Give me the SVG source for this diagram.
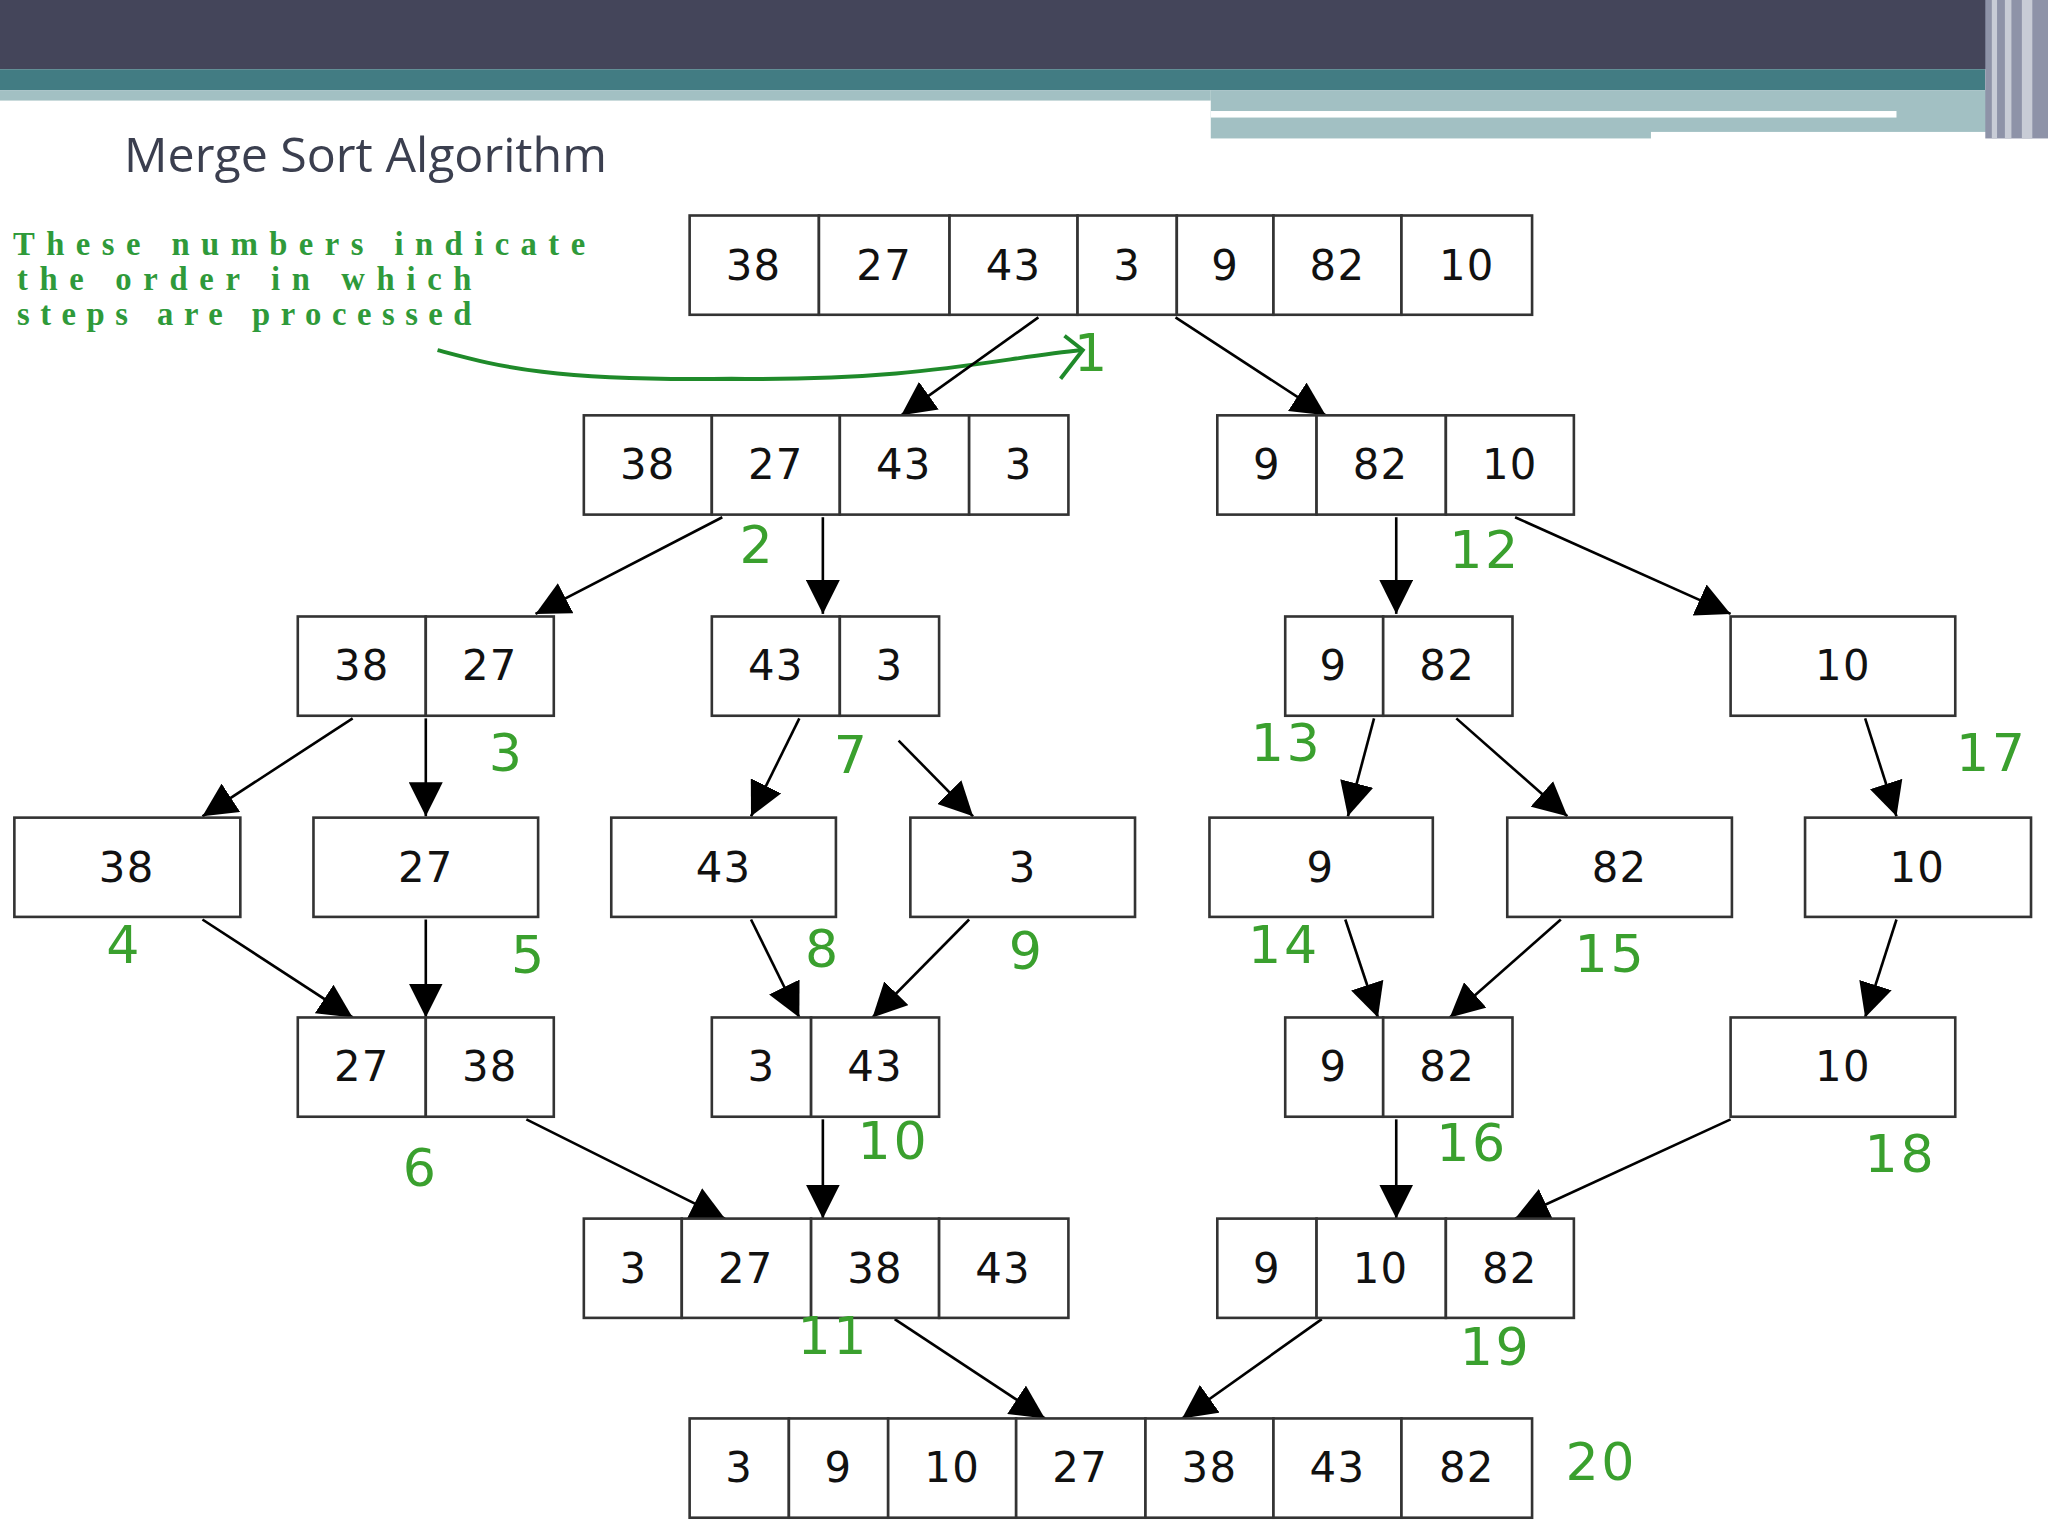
<svg xmlns="http://www.w3.org/2000/svg" width="2048" height="1536" viewBox="0 0 2048 1536">
<defs>
<marker id="ah2" viewBox="0 0 10 10" refX="10" refY="5" markerWidth="26" markerHeight="26" markerUnits="userSpaceOnUse" orient="auto"><path d="M0,0 L10,5 L0,10 z" fill="#000"/></marker>
</defs>
<style>
rect.c{fill:#fff;stroke:#333;stroke-width:2}
text.v{font-family:"DejaVu Sans",sans-serif;font-size:32px;fill:#111;text-anchor:middle;letter-spacing:1px}
text.g{font-family:"DejaVu Sans",sans-serif;font-size:40px;fill:#3aa02e;text-anchor:middle;letter-spacing:2px}
text.h{font-family:"Liberation Serif",serif;font-size:25px;fill:#2f9a3a;font-weight:bold}
line.a{stroke:#000;stroke-width:2;marker-end:url(#ah2)}
</style>
<rect width="2048" height="1536" fill="#fff"/>
<g transform="scale(1.30612)">
<g id="header">
<rect x="0" y="0" width="1568" height="53" fill="#44455a"/>
<rect x="0" y="53" width="1520" height="16" fill="#427c83"/>
<rect x="0" y="69" width="927" height="8" fill="#a2c0c3"/>
<rect x="927" y="69" width="600" height="37" fill="#a2c0c3"/>
<rect x="927" y="85" width="525" height="5" fill="#fff"/>
<rect x="1264" y="101" width="270" height="6" fill="#fff"/>
<rect x="1520" y="0" width="48" height="106" fill="#8e93a8"/>
<rect x="1525" y="0" width="4" height="106" fill="#c8ccd6"/>
<rect x="1535" y="0" width="5" height="106" fill="#c8ccd6"/>
<rect x="1548" y="0" width="8" height="106" fill="#c8ccd6"/>
<text x="95" y="132" font-family="Open Sans, sans-serif" font-size="37" fill="#3b3f4f">Merge Sort Algorithm</text>
</g>
<g id="note">
<text class="h" x="10" y="195" textLength="438" lengthAdjust="spacing">These numbers indicate</text>
<text class="h" x="13" y="222" textLength="348" lengthAdjust="spacing">the order in which</text>
<text class="h" x="13" y="249" textLength="348" lengthAdjust="spacing">steps are processed</text>
<path d="M335,268 C380,280 420,292 560,290 C700,292 760,275 828,268" fill="none" stroke="#1f8a2a" stroke-width="3"/>
<path d="M815,257 L829,268 L812,290" fill="none" stroke="#1f8a2a" stroke-width="3"/>
</g>
<g id="connectors">
<line class="a" x1="795" y1="243" x2="690" y2="318"/>
<line class="a" x1="900" y1="243" x2="1015" y2="318"/>
<line class="a" x1="553" y1="396" x2="410" y2="470"/>
<line class="a" x1="630" y1="396" x2="630" y2="470"/>
<line class="a" x1="1069" y1="396" x2="1069" y2="470"/>
<line class="a" x1="1160" y1="396" x2="1325" y2="470"/>
<line class="a" x1="270" y1="550" x2="155" y2="625"/>
<line class="a" x1="326" y1="550" x2="326" y2="625"/>
<line class="a" x1="612" y1="550" x2="575" y2="625"/>
<line class="a" x1="688" y1="567" x2="745" y2="625"/>
<line class="a" x1="1052" y1="550" x2="1032" y2="625"/>
<line class="a" x1="1115" y1="550" x2="1200" y2="625"/>
<line class="a" x1="1428" y1="550" x2="1452" y2="625"/>
<line class="a" x1="155" y1="704" x2="270" y2="779"/>
<line class="a" x1="326" y1="704" x2="326" y2="779"/>
<line class="a" x1="575" y1="704" x2="612" y2="779"/>
<line class="a" x1="742" y1="704" x2="668" y2="779"/>
<line class="a" x1="1030" y1="704" x2="1055" y2="779"/>
<line class="a" x1="1195" y1="704" x2="1110" y2="779"/>
<line class="a" x1="1452" y1="704" x2="1428" y2="779"/>
<line class="a" x1="403" y1="857" x2="555" y2="933"/>
<line class="a" x1="630" y1="857" x2="630" y2="933"/>
<line class="a" x1="1325" y1="857" x2="1160" y2="933"/>
<line class="a" x1="1069" y1="857" x2="1069" y2="933"/>
<line class="a" x1="685" y1="1010" x2="800" y2="1086"/>
<line class="a" x1="1012" y1="1010" x2="905" y2="1086"/>
</g>
<g id="r1">
<rect class="c" x="528" y="165" width="99" height="76"/><text class="v" x="577" y="214">38</text>
<rect class="c" x="627" y="165" width="100" height="76"/><text class="v" x="677" y="214">27</text>
<rect class="c" x="727" y="165" width="98" height="76"/><text class="v" x="776" y="214">43</text>
<rect class="c" x="825" y="165" width="76" height="76"/><text class="v" x="863" y="214">3</text>
<rect class="c" x="901" y="165" width="74" height="76"/><text class="v" x="938" y="214">9</text>
<rect class="c" x="975" y="165" width="98" height="76"/><text class="v" x="1024" y="214">82</text>
<rect class="c" x="1073" y="165" width="100" height="76"/><text class="v" x="1123" y="214">10</text>
</g>
<g id="r2a">
<rect class="c" x="447" y="318" width="98" height="76"/><text class="v" x="496" y="367">38</text>
<rect class="c" x="545" y="318" width="98" height="76"/><text class="v" x="594" y="367">27</text>
<rect class="c" x="643" y="318" width="99" height="76"/><text class="v" x="692" y="367">43</text>
<rect class="c" x="742" y="318" width="76" height="76"/><text class="v" x="780" y="367">3</text>
</g>
<g id="r2b">
<rect class="c" x="932" y="318" width="76" height="76"/><text class="v" x="970" y="367">9</text>
<rect class="c" x="1008" y="318" width="99" height="76"/><text class="v" x="1057" y="367">82</text>
<rect class="c" x="1107" y="318" width="98" height="76"/><text class="v" x="1156" y="367">10</text>
</g>
<g id="r3a">
<rect class="c" x="228" y="472" width="98" height="76"/><text class="v" x="277" y="521">38</text>
<rect class="c" x="326" y="472" width="98" height="76"/><text class="v" x="375" y="521">27</text>
</g>
<g id="r3b">
<rect class="c" x="545" y="472" width="98" height="76"/><text class="v" x="594" y="521">43</text>
<rect class="c" x="643" y="472" width="76" height="76"/><text class="v" x="681" y="521">3</text>
</g>
<g id="r3c">
<rect class="c" x="984" y="472" width="75" height="76"/><text class="v" x="1021" y="521">9</text>
<rect class="c" x="1059" y="472" width="99" height="76"/><text class="v" x="1108" y="521">82</text>
</g>
<g id="r3d"><rect class="c" x="1325" y="472" width="172" height="76"/><text class="v" x="1411" y="521">10</text></g>
<g id="r4a"><rect class="c" x="11" y="626" width="173" height="76"/><text class="v" x="97" y="675">38</text></g>
<g id="r4b"><rect class="c" x="240" y="626" width="172" height="76"/><text class="v" x="326" y="675">27</text></g>
<g id="r4c"><rect class="c" x="468" y="626" width="172" height="76"/><text class="v" x="554" y="675">43</text></g>
<g id="r4d"><rect class="c" x="697" y="626" width="172" height="76"/><text class="v" x="783" y="675">3</text></g>
<g id="r4e"><rect class="c" x="926" y="626" width="171" height="76"/><text class="v" x="1011" y="675">9</text></g>
<g id="r4f"><rect class="c" x="1154" y="626" width="172" height="76"/><text class="v" x="1240" y="675">82</text></g>
<g id="r4g"><rect class="c" x="1382" y="626" width="173" height="76"/><text class="v" x="1468" y="675">10</text></g>
<g id="r5a">
<rect class="c" x="228" y="779" width="98" height="76"/><text class="v" x="277" y="828">27</text>
<rect class="c" x="326" y="779" width="98" height="76"/><text class="v" x="375" y="828">38</text>
</g>
<g id="r5b">
<rect class="c" x="545" y="779" width="76" height="76"/><text class="v" x="583" y="828">3</text>
<rect class="c" x="621" y="779" width="98" height="76"/><text class="v" x="670" y="828">43</text>
</g>
<g id="r5c">
<rect class="c" x="984" y="779" width="75" height="76"/><text class="v" x="1021" y="828">9</text>
<rect class="c" x="1059" y="779" width="99" height="76"/><text class="v" x="1108" y="828">82</text>
</g>
<g id="r5d"><rect class="c" x="1325" y="779" width="172" height="76"/><text class="v" x="1411" y="828">10</text></g>
<g id="r6a">
<rect class="c" x="447" y="933" width="75" height="76"/><text class="v" x="485" y="982">3</text>
<rect class="c" x="522" y="933" width="99" height="76"/><text class="v" x="571" y="982">27</text>
<rect class="c" x="621" y="933" width="98" height="76"/><text class="v" x="670" y="982">38</text>
<rect class="c" x="719" y="933" width="99" height="76"/><text class="v" x="768" y="982">43</text>
</g>
<g id="r6b">
<rect class="c" x="932" y="933" width="76" height="76"/><text class="v" x="970" y="982">9</text>
<rect class="c" x="1008" y="933" width="99" height="76"/><text class="v" x="1057" y="982">10</text>
<rect class="c" x="1107" y="933" width="98" height="76"/><text class="v" x="1156" y="982">82</text>
</g>
<g id="r7">
<rect class="c" x="528" y="1086" width="76" height="76"/><text class="v" x="566" y="1135">3</text>
<rect class="c" x="604" y="1086" width="76" height="76"/><text class="v" x="642" y="1135">9</text>
<rect class="c" x="680" y="1086" width="98" height="76"/><text class="v" x="729" y="1135">10</text>
<rect class="c" x="778" y="1086" width="99" height="76"/><text class="v" x="827" y="1135">27</text>
<rect class="c" x="877" y="1086" width="98" height="76"/><text class="v" x="926" y="1135">38</text>
<rect class="c" x="975" y="1086" width="98" height="76"/><text class="v" x="1024" y="1135">43</text>
<rect class="c" x="1073" y="1086" width="100" height="76"/><text class="v" x="1123" y="1135">82</text>
</g>
<g id="steps">
<text class="g" x="836" y="284">1</text>
<text class="g" x="580" y="431">2</text>
<text class="g" x="1137" y="435">12</text>
<text class="g" x="388" y="590">3</text>
<text class="g" x="652" y="592">7</text>
<text class="g" x="985" y="583">13</text>
<text class="g" x="1525" y="590">17</text>
<text class="g" x="95" y="737">4</text>
<text class="g" x="405" y="745">5</text>
<text class="g" x="630" y="740">8</text>
<text class="g" x="786" y="742">9</text>
<text class="g" x="983" y="737">14</text>
<text class="g" x="1233" y="744">15</text>
<text class="g" x="322" y="908">6</text>
<text class="g" x="684" y="887">10</text>
<text class="g" x="1127" y="889">16</text>
<text class="g" x="1455" y="897">18</text>
<text class="g" x="638" y="1037">11</text>
<text class="g" x="1145" y="1045">19</text>
<text class="g" x="1226" y="1133">20</text>
</g>
</g>
</svg>
